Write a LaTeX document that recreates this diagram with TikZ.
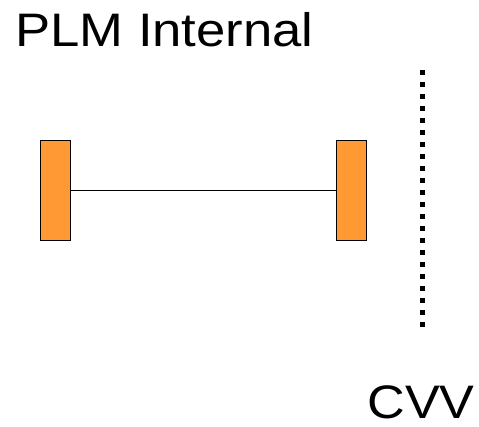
\documentclass[tikz,border=0pt]{standalone}
\usepackage{fontspec}
\setmainfont{Liberation Sans}
\begin{document}
\begin{tikzpicture}[x=1pt,y=-1pt,
  bar/.style={draw=black,line width=1.5pt,fill=barorange,minimum width=30pt,minimum height=100pt,inner sep=0pt},
  lbl/.style={font=\fontsize{47}{55}\selectfont,inner sep=0pt}]
\definecolor{barorange}{HTML}{FF9933}
\useasboundingbox (0,0) rectangle (479,427);
\node[bar] (l) at (55.5,190.5) {};
\node[bar] (r) at (351.5,190.5) {};
\draw[line width=1.2pt] (l.east) -- (r.west);
\coordinate (dtop) at (422.5,70);
\coordinate (dbot) at (422.5,330);
\draw[line width=5pt,dash pattern=on 5pt off 7pt] (dtop) -- (dbot);
\node[lbl,anchor=base west] (t1) at (15,47) {\scalebox{1.12}[1]{PLM Internal}};
\node[lbl,anchor=base east] (t2) at (475,418) {\scalebox{1.11}[1]{CVV}};
\end{tikzpicture}
\end{document}
